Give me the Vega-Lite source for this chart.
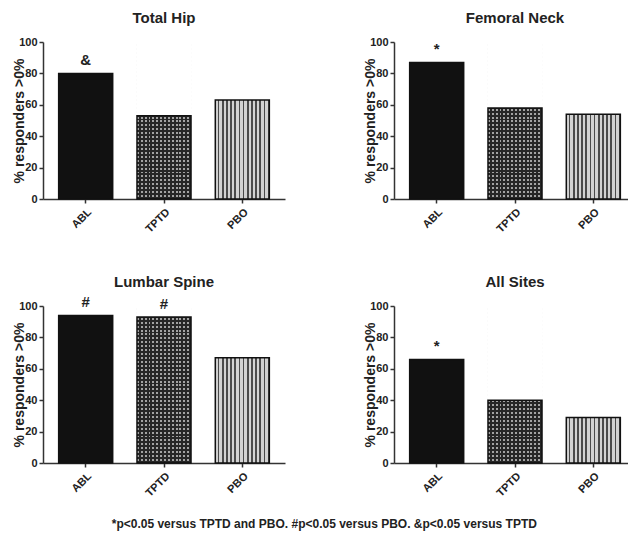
{
  "$schema": "https://vega.github.io/schema/vega-lite/v6.json",
  "padding": {"left": 12, "top": 11, "right": 0, "bottom": 0},
  "background": "white",
  "data": {"values": [
    {"site": "Total Hip", "group": "ABL", "value": 80, "sig": "&"},
    {"site": "Total Hip", "group": "TPTD", "value": 53, "sig": ""},
    {"site": "Total Hip", "group": "PBO", "value": 63, "sig": ""},
    {"site": "Femoral Neck", "group": "ABL", "value": 87, "sig": "*"},
    {"site": "Femoral Neck", "group": "TPTD", "value": 58, "sig": ""},
    {"site": "Femoral Neck", "group": "PBO", "value": 54, "sig": ""},
    {"site": "Lumbar Spine", "group": "ABL", "value": 94, "sig": "#"},
    {"site": "Lumbar Spine", "group": "TPTD", "value": 93, "sig": "#"},
    {"site": "Lumbar Spine", "group": "PBO", "value": 67, "sig": ""},
    {"site": "All Sites", "group": "ABL", "value": 66, "sig": "*"},
    {"site": "All Sites", "group": "TPTD", "value": 40, "sig": ""},
    {"site": "All Sites", "group": "PBO", "value": 29, "sig": ""}
  ]},
  "title": {"text": "*p<0.05 versus TPTD and PBO. #p<0.05 versus PBO. &p<0.05 versus TPTD", "orient": "bottom", "anchor": "middle", "fontSize": 12, "fontWeight": "bold", "color": "#222", "font": "Liberation Sans", "offset": 21},
  "facet": {"field": "site", "type": "nominal", "sort": ["Total Hip", "Femoral Neck", "Lumbar Spine", "All Sites"],
    "header": {"title": null, "labelFont": "Liberation Sans", "labelFontSize": 15, "labelFontWeight": "bold", "labelColor": "#222", "labelPadding": -4}},
  "columns": 2,
  "spacing": {"row": 107, "column": 109},
  "bounds": "flush",
  "resolve": {"axis": {"x": "independent", "y": "independent"}},
  "spec": {
    "width": 242, "height": 157,
    "encoding": {
      "x": {"field": "group", "type": "nominal", "sort": ["ABL", "TPTD", "PBO"], "scale": {"paddingInner": 0.31, "paddingOuter": 0.2}, "axis": {"title": null, "labelAngle": -45}},
      "y": {"field": "value", "type": "quantitative", "scale": {"domain": [0, 100], "nice": false}, "axis": {"title": "% responders >0%", "values": [0, 20, 40, 60, 80, 100]}}
    },
    "layer": [
      {"transform": [{"filter": "datum.group === 'ABL'"}], "mark": {"type": "bar", "fill": "#111111", "strokeWidth": 0}},
      {"transform": [{"filter": "datum.group === 'PBO'"}], "mark": {"type": "bar", "strokeWidth": 0, "fill": {"gradient": "linear", "x1": 0, "y1": 0, "x2": 1, "y2": 0, "stops": [
        {"offset": 0, "color": "#d2d2d2"}, {"offset": 0.0462, "color": "#d2d2d2"}, {"offset": 0.0462, "color": "#4a4a4a"}, {"offset": 0.0769, "color": "#4a4a4a"},
        {"offset": 0.0769, "color": "#d2d2d2"}, {"offset": 0.1231, "color": "#d2d2d2"}, {"offset": 0.1231, "color": "#4a4a4a"}, {"offset": 0.1538, "color": "#4a4a4a"},
        {"offset": 0.1538, "color": "#d2d2d2"}, {"offset": 0.2, "color": "#d2d2d2"}, {"offset": 0.2, "color": "#4a4a4a"}, {"offset": 0.2308, "color": "#4a4a4a"},
        {"offset": 0.2308, "color": "#d2d2d2"}, {"offset": 0.2769, "color": "#d2d2d2"}, {"offset": 0.2769, "color": "#4a4a4a"}, {"offset": 0.3077, "color": "#4a4a4a"},
        {"offset": 0.3077, "color": "#d2d2d2"}, {"offset": 0.3538, "color": "#d2d2d2"}, {"offset": 0.3538, "color": "#4a4a4a"}, {"offset": 0.3846, "color": "#4a4a4a"},
        {"offset": 0.3846, "color": "#d2d2d2"}, {"offset": 0.4308, "color": "#d2d2d2"}, {"offset": 0.4308, "color": "#4a4a4a"}, {"offset": 0.4615, "color": "#4a4a4a"},
        {"offset": 0.4615, "color": "#d2d2d2"}, {"offset": 0.5077, "color": "#d2d2d2"}, {"offset": 0.5077, "color": "#4a4a4a"}, {"offset": 0.5385, "color": "#4a4a4a"},
        {"offset": 0.5385, "color": "#d2d2d2"}, {"offset": 0.5846, "color": "#d2d2d2"}, {"offset": 0.5846, "color": "#4a4a4a"}, {"offset": 0.6154, "color": "#4a4a4a"},
        {"offset": 0.6154, "color": "#d2d2d2"}, {"offset": 0.6615, "color": "#d2d2d2"}, {"offset": 0.6615, "color": "#4a4a4a"}, {"offset": 0.6923, "color": "#4a4a4a"},
        {"offset": 0.6923, "color": "#d2d2d2"}, {"offset": 0.7385, "color": "#d2d2d2"}, {"offset": 0.7385, "color": "#4a4a4a"}, {"offset": 0.7692, "color": "#4a4a4a"},
        {"offset": 0.7692, "color": "#d2d2d2"}, {"offset": 0.8154, "color": "#d2d2d2"}, {"offset": 0.8154, "color": "#4a4a4a"}, {"offset": 0.8462, "color": "#4a4a4a"},
        {"offset": 0.8462, "color": "#d2d2d2"}, {"offset": 0.8923, "color": "#d2d2d2"}, {"offset": 0.8923, "color": "#4a4a4a"}, {"offset": 0.9231, "color": "#4a4a4a"},
        {"offset": 0.9231, "color": "#d2d2d2"}, {"offset": 0.9692, "color": "#d2d2d2"}, {"offset": 0.9692, "color": "#4a4a4a"}, {"offset": 1, "color": "#4a4a4a"}
      ]}}},
      {"transform": [{"filter": "datum.group === 'TPTD'"}], "mark": {"type": "bar", "strokeWidth": 0, "fill": {"gradient": "linear", "x1": 0, "y1": 0, "x2": 1, "y2": 0, "stops": [
        {"offset": 0, "color": "#a2a2a2"}, {"offset": 0.0357, "color": "#a2a2a2"}, {"offset": 0.0357, "color": "#262626"}, {"offset": 0.0714, "color": "#262626"},
        {"offset": 0.0714, "color": "#a2a2a2"}, {"offset": 0.1071, "color": "#a2a2a2"}, {"offset": 0.1071, "color": "#262626"}, {"offset": 0.1429, "color": "#262626"},
        {"offset": 0.1429, "color": "#a2a2a2"}, {"offset": 0.1786, "color": "#a2a2a2"}, {"offset": 0.1786, "color": "#262626"}, {"offset": 0.2143, "color": "#262626"},
        {"offset": 0.2143, "color": "#a2a2a2"}, {"offset": 0.25, "color": "#a2a2a2"}, {"offset": 0.25, "color": "#262626"}, {"offset": 0.2857, "color": "#262626"},
        {"offset": 0.2857, "color": "#a2a2a2"}, {"offset": 0.3214, "color": "#a2a2a2"}, {"offset": 0.3214, "color": "#262626"}, {"offset": 0.3571, "color": "#262626"},
        {"offset": 0.3571, "color": "#a2a2a2"}, {"offset": 0.3929, "color": "#a2a2a2"}, {"offset": 0.3929, "color": "#262626"}, {"offset": 0.4286, "color": "#262626"},
        {"offset": 0.4286, "color": "#a2a2a2"}, {"offset": 0.4643, "color": "#a2a2a2"}, {"offset": 0.4643, "color": "#262626"}, {"offset": 0.5, "color": "#262626"},
        {"offset": 0.5, "color": "#a2a2a2"}, {"offset": 0.5357, "color": "#a2a2a2"}, {"offset": 0.5357, "color": "#262626"}, {"offset": 0.5714, "color": "#262626"},
        {"offset": 0.5714, "color": "#a2a2a2"}, {"offset": 0.6071, "color": "#a2a2a2"}, {"offset": 0.6071, "color": "#262626"}, {"offset": 0.6429, "color": "#262626"},
        {"offset": 0.6429, "color": "#a2a2a2"}, {"offset": 0.6786, "color": "#a2a2a2"}, {"offset": 0.6786, "color": "#262626"}, {"offset": 0.7143, "color": "#262626"},
        {"offset": 0.7143, "color": "#a2a2a2"}, {"offset": 0.75, "color": "#a2a2a2"}, {"offset": 0.75, "color": "#262626"}, {"offset": 0.7857, "color": "#262626"},
        {"offset": 0.7857, "color": "#a2a2a2"}, {"offset": 0.8214, "color": "#a2a2a2"}, {"offset": 0.8214, "color": "#262626"}, {"offset": 0.8571, "color": "#262626"},
        {"offset": 0.8571, "color": "#a2a2a2"}, {"offset": 0.8929, "color": "#a2a2a2"}, {"offset": 0.8929, "color": "#262626"}, {"offset": 0.9286, "color": "#262626"},
        {"offset": 0.9286, "color": "#a2a2a2"}, {"offset": 0.9643, "color": "#a2a2a2"}, {"offset": 0.9643, "color": "#262626"}, {"offset": 1, "color": "#262626"}
      ]}}},
      {"transform": [{"filter": "datum.group === 'TPTD'"}], "encoding": {"y": {"datum": 100}, "y2": {"datum": 0}}, "mark": {"type": "bar", "strokeWidth": 0, "fill": {"gradient": "linear", "x1": 0, "y1": 0, "x2": 0, "y2": 1, "stops": [
        {"offset": 0, "color": "rgba(38,38,38,0)"}, {"offset": 0.0125, "color": "rgba(38,38,38,0)"}, {"offset": 0.0125, "color": "#262626"}, {"offset": 0.025, "color": "#262626"},
        {"offset": 0.025, "color": "rgba(38,38,38,0)"}, {"offset": 0.0375, "color": "rgba(38,38,38,0)"}, {"offset": 0.0375, "color": "#262626"}, {"offset": 0.05, "color": "#262626"},
        {"offset": 0.05, "color": "rgba(38,38,38,0)"}, {"offset": 0.0625, "color": "rgba(38,38,38,0)"}, {"offset": 0.0625, "color": "#262626"}, {"offset": 0.075, "color": "#262626"},
        {"offset": 0.075, "color": "rgba(38,38,38,0)"}, {"offset": 0.0875, "color": "rgba(38,38,38,0)"}, {"offset": 0.0875, "color": "#262626"}, {"offset": 0.1, "color": "#262626"},
        {"offset": 0.1, "color": "rgba(38,38,38,0)"}, {"offset": 0.1125, "color": "rgba(38,38,38,0)"}, {"offset": 0.1125, "color": "#262626"}, {"offset": 0.125, "color": "#262626"},
        {"offset": 0.125, "color": "rgba(38,38,38,0)"}, {"offset": 0.1375, "color": "rgba(38,38,38,0)"}, {"offset": 0.1375, "color": "#262626"}, {"offset": 0.15, "color": "#262626"},
        {"offset": 0.15, "color": "rgba(38,38,38,0)"}, {"offset": 0.1625, "color": "rgba(38,38,38,0)"}, {"offset": 0.1625, "color": "#262626"}, {"offset": 0.175, "color": "#262626"},
        {"offset": 0.175, "color": "rgba(38,38,38,0)"}, {"offset": 0.1875, "color": "rgba(38,38,38,0)"}, {"offset": 0.1875, "color": "#262626"}, {"offset": 0.2, "color": "#262626"},
        {"offset": 0.2, "color": "rgba(38,38,38,0)"}, {"offset": 0.2125, "color": "rgba(38,38,38,0)"}, {"offset": 0.2125, "color": "#262626"}, {"offset": 0.225, "color": "#262626"},
        {"offset": 0.225, "color": "rgba(38,38,38,0)"}, {"offset": 0.2375, "color": "rgba(38,38,38,0)"}, {"offset": 0.2375, "color": "#262626"}, {"offset": 0.25, "color": "#262626"},
        {"offset": 0.25, "color": "rgba(38,38,38,0)"}, {"offset": 0.2625, "color": "rgba(38,38,38,0)"}, {"offset": 0.2625, "color": "#262626"}, {"offset": 0.275, "color": "#262626"},
        {"offset": 0.275, "color": "rgba(38,38,38,0)"}, {"offset": 0.2875, "color": "rgba(38,38,38,0)"}, {"offset": 0.2875, "color": "#262626"}, {"offset": 0.3, "color": "#262626"},
        {"offset": 0.3, "color": "rgba(38,38,38,0)"}, {"offset": 0.3125, "color": "rgba(38,38,38,0)"}, {"offset": 0.3125, "color": "#262626"}, {"offset": 0.325, "color": "#262626"},
        {"offset": 0.325, "color": "rgba(38,38,38,0)"}, {"offset": 0.3375, "color": "rgba(38,38,38,0)"}, {"offset": 0.3375, "color": "#262626"}, {"offset": 0.35, "color": "#262626"},
        {"offset": 0.35, "color": "rgba(38,38,38,0)"}, {"offset": 0.3625, "color": "rgba(38,38,38,0)"}, {"offset": 0.3625, "color": "#262626"}, {"offset": 0.375, "color": "#262626"},
        {"offset": 0.375, "color": "rgba(38,38,38,0)"}, {"offset": 0.3875, "color": "rgba(38,38,38,0)"}, {"offset": 0.3875, "color": "#262626"}, {"offset": 0.4, "color": "#262626"},
        {"offset": 0.4, "color": "rgba(38,38,38,0)"}, {"offset": 0.4125, "color": "rgba(38,38,38,0)"}, {"offset": 0.4125, "color": "#262626"}, {"offset": 0.425, "color": "#262626"},
        {"offset": 0.425, "color": "rgba(38,38,38,0)"}, {"offset": 0.4375, "color": "rgba(38,38,38,0)"}, {"offset": 0.4375, "color": "#262626"}, {"offset": 0.45, "color": "#262626"},
        {"offset": 0.45, "color": "rgba(38,38,38,0)"}, {"offset": 0.4625, "color": "rgba(38,38,38,0)"}, {"offset": 0.4625, "color": "#262626"}, {"offset": 0.475, "color": "#262626"},
        {"offset": 0.475, "color": "rgba(38,38,38,0)"}, {"offset": 0.4875, "color": "rgba(38,38,38,0)"}, {"offset": 0.4875, "color": "#262626"}, {"offset": 0.5, "color": "#262626"},
        {"offset": 0.5, "color": "rgba(38,38,38,0)"}, {"offset": 0.5125, "color": "rgba(38,38,38,0)"}, {"offset": 0.5125, "color": "#262626"}, {"offset": 0.525, "color": "#262626"},
        {"offset": 0.525, "color": "rgba(38,38,38,0)"}, {"offset": 0.5375, "color": "rgba(38,38,38,0)"}, {"offset": 0.5375, "color": "#262626"}, {"offset": 0.55, "color": "#262626"},
        {"offset": 0.55, "color": "rgba(38,38,38,0)"}, {"offset": 0.5625, "color": "rgba(38,38,38,0)"}, {"offset": 0.5625, "color": "#262626"}, {"offset": 0.575, "color": "#262626"},
        {"offset": 0.575, "color": "rgba(38,38,38,0)"}, {"offset": 0.5875, "color": "rgba(38,38,38,0)"}, {"offset": 0.5875, "color": "#262626"}, {"offset": 0.6, "color": "#262626"},
        {"offset": 0.6, "color": "rgba(38,38,38,0)"}, {"offset": 0.6125, "color": "rgba(38,38,38,0)"}, {"offset": 0.6125, "color": "#262626"}, {"offset": 0.625, "color": "#262626"},
        {"offset": 0.625, "color": "rgba(38,38,38,0)"}, {"offset": 0.6375, "color": "rgba(38,38,38,0)"}, {"offset": 0.6375, "color": "#262626"}, {"offset": 0.65, "color": "#262626"},
        {"offset": 0.65, "color": "rgba(38,38,38,0)"}, {"offset": 0.6625, "color": "rgba(38,38,38,0)"}, {"offset": 0.6625, "color": "#262626"}, {"offset": 0.675, "color": "#262626"},
        {"offset": 0.675, "color": "rgba(38,38,38,0)"}, {"offset": 0.6875, "color": "rgba(38,38,38,0)"}, {"offset": 0.6875, "color": "#262626"}, {"offset": 0.7, "color": "#262626"},
        {"offset": 0.7, "color": "rgba(38,38,38,0)"}, {"offset": 0.7125, "color": "rgba(38,38,38,0)"}, {"offset": 0.7125, "color": "#262626"}, {"offset": 0.725, "color": "#262626"},
        {"offset": 0.725, "color": "rgba(38,38,38,0)"}, {"offset": 0.7375, "color": "rgba(38,38,38,0)"}, {"offset": 0.7375, "color": "#262626"}, {"offset": 0.75, "color": "#262626"},
        {"offset": 0.75, "color": "rgba(38,38,38,0)"}, {"offset": 0.7625, "color": "rgba(38,38,38,0)"}, {"offset": 0.7625, "color": "#262626"}, {"offset": 0.775, "color": "#262626"},
        {"offset": 0.775, "color": "rgba(38,38,38,0)"}, {"offset": 0.7875, "color": "rgba(38,38,38,0)"}, {"offset": 0.7875, "color": "#262626"}, {"offset": 0.8, "color": "#262626"},
        {"offset": 0.8, "color": "rgba(38,38,38,0)"}, {"offset": 0.8125, "color": "rgba(38,38,38,0)"}, {"offset": 0.8125, "color": "#262626"}, {"offset": 0.825, "color": "#262626"},
        {"offset": 0.825, "color": "rgba(38,38,38,0)"}, {"offset": 0.8375, "color": "rgba(38,38,38,0)"}, {"offset": 0.8375, "color": "#262626"}, {"offset": 0.85, "color": "#262626"},
        {"offset": 0.85, "color": "rgba(38,38,38,0)"}, {"offset": 0.8625, "color": "rgba(38,38,38,0)"}, {"offset": 0.8625, "color": "#262626"}, {"offset": 0.875, "color": "#262626"},
        {"offset": 0.875, "color": "rgba(38,38,38,0)"}, {"offset": 0.8875, "color": "rgba(38,38,38,0)"}, {"offset": 0.8875, "color": "#262626"}, {"offset": 0.9, "color": "#262626"},
        {"offset": 0.9, "color": "rgba(38,38,38,0)"}, {"offset": 0.9125, "color": "rgba(38,38,38,0)"}, {"offset": 0.9125, "color": "#262626"}, {"offset": 0.925, "color": "#262626"},
        {"offset": 0.925, "color": "rgba(38,38,38,0)"}, {"offset": 0.9375, "color": "rgba(38,38,38,0)"}, {"offset": 0.9375, "color": "#262626"}, {"offset": 0.95, "color": "#262626"},
        {"offset": 0.95, "color": "rgba(38,38,38,0)"}, {"offset": 0.9625, "color": "rgba(38,38,38,0)"}, {"offset": 0.9625, "color": "#262626"}, {"offset": 0.975, "color": "#262626"},
        {"offset": 0.975, "color": "rgba(38,38,38,0)"}, {"offset": 0.9875, "color": "rgba(38,38,38,0)"}, {"offset": 0.9875, "color": "#262626"}, {"offset": 1, "color": "#262626"}
      ]}}},
      {"transform": [{"filter": "datum.group === 'TPTD'"}], "encoding": {"y2": {"datum": 100}}, "mark": {"type": "bar", "fill": "#ffffff", "strokeWidth": 0}},
      {"mark": {"type": "bar", "fill": "transparent", "stroke": "#111111", "strokeWidth": 1.5}},
      {"mark": {"type": "text", "fill": "#222222", "fontSize": 15, "fontWeight": "bold", "dy": -8, "baseline": "alphabetic"}, "encoding": {"text": {"field": "sig"}}},
      {"transform": [{"filter": "datum.group === 'ABL'"}], "mark": {"type": "text", "text": "#", "opacity": 0, "fontSize": 15, "fontWeight": "bold", "dy": -8, "baseline": "alphabetic"}, "encoding": {"y": {"datum": 100}}}
    ]
  },
  "config": {
    "font": "Liberation Sans",
    "view": {"stroke": null},
    "axis": {"grid": false, "domainColor": "#333", "domainWidth": 1.5, "tickColor": "#333", "tickWidth": 1.5, "tickSize": 4, "labelFont": "Liberation Sans", "labelFontWeight": "bold", "labelFontSize": 11, "labelColor": "#222", "labelPadding": 2, "titleFont": "Liberation Sans", "titleFontWeight": "bold", "titleFontSize": 14, "titleColor": "#222", "titlePadding": -8},
    "axisX": {"labelPadding": 3}
  }
}
